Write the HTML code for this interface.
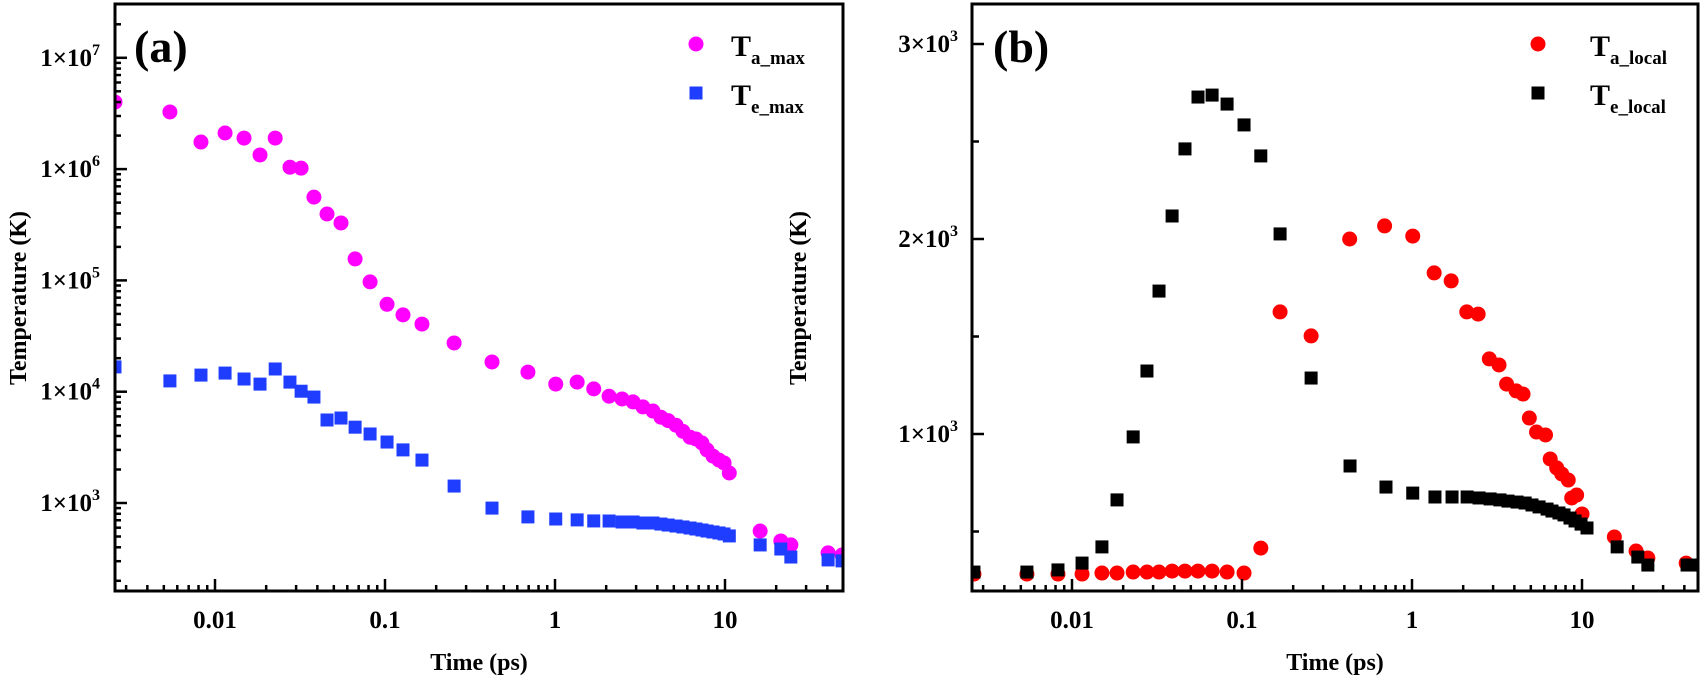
<!DOCTYPE html>
<html><head><meta charset="utf-8"><style>
html,body{margin:0;padding:0;background:#fff;}
svg{display:block;font-family:"Liberation Serif",serif;font-weight:bold;}
</style></head><body>
<svg id="fig" width="1705" height="679" viewBox="0 0 1705 679" xmlns="http://www.w3.org/2000/svg">
<g id="pa"></g>
<g id="pb"></g>
</svg>
<script>
// ---- Panel (a) data ----
const timeA = [0.00258,0.00543,0.00827,0.01146,0.01482,0.0184,0.0226,0.0276,0.0321,0.0382,0.0456,0.0551,0.0667,0.0817,0.1028,0.1276,0.165,0.255,0.426,0.693,1.01,1.35,1.69,2.08,2.48,2.88,3.29,3.77,4.2,4.63,5.15,5.66,6.23,6.75,7.32,7.84,8.5,9.22,9.87,10.6,16.1,21.3,24.4,40.4,48.8];
const taMax = [4.0e6,3.26e6,1.75e6,2.11e6,1.9e6,1.34e6,1.9e6,1.04e6,1.02e6,5.6e5,3.95e5,3.28e5,1.56e5,9.7e4,6.1e4,4.9e4,4.05e4,2.74e4,1.85e4,1.5e4,1.17e4,1.22e4,1.06e4,9.1e3,8.6e3,8.1e3,7.3e3,6.7e3,5.9e3,5.5e3,5.0e3,4.4e3,3.9e3,3.76e3,3.46e3,3.0e3,2.64e3,2.43e3,2.29e3,1.86e3,560,456,420,356,341];
const teMax = [1.67e4,1.25e4,1.41e4,1.47e4,1.3e4,1.17e4,1.6e4,1.22e4,1.01e4,8.95e3,5.57e3,5.8e3,4.8e3,4.17e3,3.53e3,3.0e3,2.43e3,1.42e3,900,750,718,705,690,689,675,675,661,661,647,634,621,609,596,584,572,560,549,538,527,506,420,386,327,308,302];
const yTicksA = [1e3,1e4,1e5,1e6,1e7];
const yTickExpA = ["3","4","5","6","7"];
const xTicks = [0.01,0.1,1,10];
const xTickLabels = ["0.01","0.1","1","10"];
// ---- Panel (b) data ----
const timeB = [0.00265,0.00543,0.00827,0.01146,0.0150,0.0184,0.0229,0.0276,0.0325,0.0388,0.0462,0.0551,0.0667,0.0817,0.1028,0.129,0.1675,0.255,0.432,0.703,1.01,1.365,1.72,2.11,2.48,2.88,3.29,3.67,4.15,4.63,5.08,5.59,6.23,6.66,7.32,7.84,8.5,9.1,9.87,10.7,16.1,21.3,24.4,41.5,49.4];
const teLocal = [292,292,303,338,421,662,985,1323,1733,2118,2462,2728,2738,2692,2585,2426,2026,1287,836,728,697,677,677,677,672,667,662,656,651,646,636,626,615,605,595,585,569,554,538,518,421,369,328,328,328];
const taLocalTime = [0.00265,0.00543,0.00827,0.01146,0.0150,0.0184,0.0229,0.0276,0.0325,0.0388,0.0462,0.0551,0.0667,0.0817,0.1028,0.129,0.1675,0.255,0.43,0.69,1.01,1.35,1.7,2.1,2.45,2.85,3.25,3.6,4.1,4.5,4.9,5.4,6.1,6.5,7.1,7.6,8.3,8.7,9.3,10.0,15.5,20.8,24.4,41,49.4];
const taLocal = [282,282,282,282,287,287,292,292,292,297,297,297,297,292,287,415,1626,1503,2000,2067,2015,1826,1785,1626,1615,1385,1354,1256,1221,1205,1082,1010,995,872,826,795,764,672,687,590,472,400,364,338,328];
const yTicksB = [1000,2000,3000];
const yTickLabB = ["1","2","3"];
const yMinorB = [500,1500,2500];

const NS="http://www.w3.org/2000/svg";
function mk(parent,tag,attrs){const e=document.createElementNS(NS,tag);for(const k in attrs)e.setAttribute(k,attrs[k]);parent.appendChild(e);return e;}

function xScale(L){const x0=L+100; return t=>x0+(Math.log10(t)+2)*170;}

function drawFrame(g,L,R,T,B){
  const r=mk(g,'rect',{x:L,y:T,width:R-L,height:B-T,fill:'none',stroke:'#000','stroke-width':3});
  
  
}
function drawXAxis(g,L,R,B,xs){
  for(let d=-3;d<=1;d++){for(let m=1;m<=9;m++){const t=m*Math.pow(10,d);const x=xs(t);if(x<L+2||x>R-2)continue;
    const tk=mk(g,'line',{x1:x,x2:x,y1:B,y2:B-(m===1?12:6),stroke:'#000','stroke-width':2.5});
    
    }}
  xTicks.forEach((t,i)=>{const tx=mk(g,'text',{x:xs(t),y:628,'text-anchor':'middle','font-size':25});tx.textContent=xTickLabels[i];
    
    });
  const ti=mk(g,'text',{x:(L+R)/2,y:670,'text-anchor':'middle','font-size':24});ti.textContent='Time (ps)';
  
  
}
function yTitle(g,x){
  const t=mk(g,'text',{x:0,y:0,'text-anchor':'middle','font-size':24,transform:`translate(${x},298) rotate(-90)`});t.textContent='Temperature (K)';
  
  
}
function sciLabel(g,xr,y,mant,exp){
  const t=mk(g,'text',{x:xr,y:y+8,'text-anchor':'end','font-size':25});
  
  
  const a=mk(t,'tspan',{});a.textContent=mant+'\u00d710';
  const b=mk(t,'tspan',{'font-size':16,dy:-11});b.textContent=exp;
}
function circle(g,x,y,c,name){const e=mk(g,'circle',{cx:x,cy:y,r:7.5,fill:c});
  
  }
function square(g,x,y,c,name){const e=mk(g,'rect',{x:x-6.5,y:y-6.5,width:13,height:13,fill:c});
  
  }
function legendEntry(g,sx,sy,tx,sub,c,shape,name){
  const lg=mk(g,'g',{});
  
  
  if(shape==='c')circle(lg,sx,sy,c,'legend-marker');else square(lg,sx,sy,c,'legend-marker');
  const t=mk(lg,'text',{x:tx,y:sy+12,'font-size':30});
  const a=mk(t,'tspan',{});a.textContent='T';
  const b=mk(t,'tspan',{'font-size':19,dy:8});b.textContent=sub;
}

// Panel A
(function(){
  const g=document.getElementById('pa');const L=115,R=843,T=4,B=591;
  const xs=xScale(L);const ys=v=>503-(Math.log10(v)-3)*111.3;
  const clip=mk(g,'g',{});
  
  
  timeA.forEach((t,i)=>circle(clip,xs(t),ys(taMax[i]),'#ff00ff','point-ta-max'));
  timeA.forEach((t,i)=>square(clip,xs(t),ys(teMax[i]),'#1f3dff','point-te-max'));
  // cover outside
  const m1=mk(g,'rect',{x:0,y:0,width:L-1,height:679,fill:'#fff'});
  const m2=mk(g,'rect',{x:R+1,y:0,width:40,height:679,fill:'#fff'});
  drawFrame(g,L,R,T,B);
  for(let d=2;d<=7;d++){for(let m=1;m<=9;m++){const v=m*Math.pow(10,d);const y=ys(v);if(y<T+2||y>B-2)continue;
    const tk=mk(g,'line',{x1:L,x2:L+(m===1?12:6),y1:y,y2:y,stroke:'#000','stroke-width':2.5});
    
    }}
  yTicksA.forEach((v,i)=>sciLabel(g,100,ys(v),'1',yTickExpA[i]));
  drawXAxis(g,L,R,B,xs);
  yTitle(g,26);
  const p=mk(g,'text',{x:134,y:62,'font-size':46});p.textContent='(a)';
  
  legendEntry(g,696,44,731,'a_max','#ff00ff','c','legend-ta-max');
  legendEntry(g,696,93,731,'e_max','#1f3dff','s','legend-te-max');
})();

// Panel B
(function(){
  const g=document.getElementById('pb');const L=972,R=1698,T=4,B=591;
  const xs=xScale(L);const ys=v=>434-(v-1000)*0.195;
  const s=mk(g,'g',{});
  
  
  taLocalTime.forEach((t,i)=>circle(s,xs(t),ys(taLocal[i]),'#ff0000','point-ta-local'));
  timeB.forEach((t,i)=>square(s,xs(t),ys(teLocal[i]),'#000000','point-te-local'));
  const m1=mk(g,'rect',{x:L-60,y:0,width:59,height:600,fill:'#fff'});
  const m2=mk(g,'rect',{x:R+1,y:0,width:10,height:679,fill:'#fff'});
  drawFrame(g,L,R,T,B);
  yTicksB.forEach((v,i)=>{const y=ys(v);const tk=mk(g,'line',{x1:L,x2:L+12,y1:y,y2:y,stroke:'#000','stroke-width':2.5});
    
    sciLabel(g,958,y,yTickLabB[i],'3');});
  yMinorB.forEach(v=>{const y=ys(v);const tk=mk(g,'line',{x1:L,x2:L+7,y1:y,y2:y,stroke:'#000','stroke-width':2.5});
    });
  drawXAxis(g,L,R,B,xs);
  yTitle(g,806);
  const p=mk(g,'text',{x:993,y:62,'font-size':46});p.textContent='(b)';
  
  legendEntry(g,1538,44,1590,'a_local','#ff0000','c','legend-ta-local');
  legendEntry(g,1538,93,1590,'e_local','#000000','s','legend-te-local');
})();
</script>
</body></html>
